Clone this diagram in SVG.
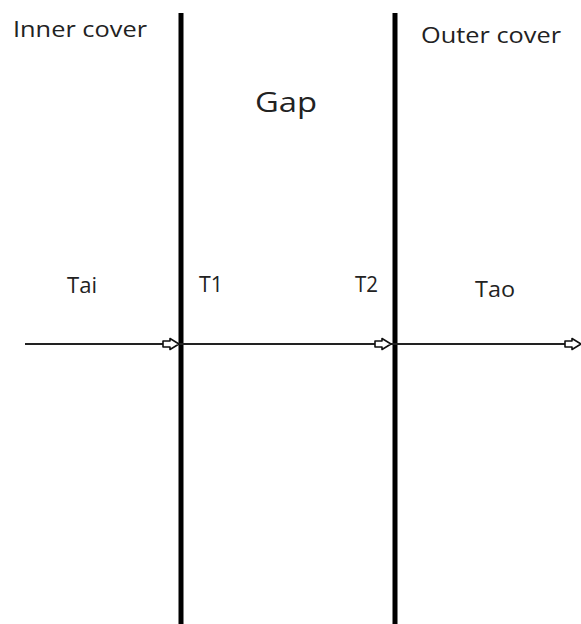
<svg xmlns="http://www.w3.org/2000/svg" width="581" height="624" viewBox="0 0 581 624">
<style>
.t{font-family:"Open Sans","Liberation Sans",sans-serif;fill:#222;}
.wall{stroke:#000;stroke-width:5;}
.flow{stroke:#222;stroke-width:1.8;fill:none;}
.ah{fill:#fff;stroke:#111;stroke-width:1.6;stroke-linejoin:round;}
</style>
<defs>
<path id="arr" class="ah" d="M-16,-3 L-9,-3 L-9,-5.5 L0,0 L-9,5.5 L-9,3 L-16,3 Z"/>
</defs>
<rect width="581" height="624" fill="#fff"/>
<g id="inner-wall"><line class="wall" x1="181" y1="13" x2="181" y2="624"/></g>
<g id="outer-wall"><line class="wall" x1="395" y1="13" x2="395" y2="624"/></g>
<g id="connectors">
<line class="flow" x1="25" y1="344" x2="581" y2="344"/>
<use href="#arr" x="179" y="344"/>
<use href="#arr" x="391" y="344"/>
<use href="#arr" x="581" y="344"/>
</g>
<g id="labels">
<text class="t" x="13" y="37" font-size="21" textLength="134" lengthAdjust="spacingAndGlyphs">Inner cover</text>
<text class="t" x="421" y="43" font-size="21" textLength="140" lengthAdjust="spacingAndGlyphs">Outer cover</text>
<text class="t" x="255" y="112" font-size="28" textLength="62" lengthAdjust="spacingAndGlyphs">Gap</text>
<text class="t" x="67" y="293" font-size="21" textLength="30" lengthAdjust="spacingAndGlyphs">Tai</text>
<text class="t" x="199" y="292" font-size="21" textLength="24" lengthAdjust="spacingAndGlyphs">T1</text>
<text class="t" x="355" y="292" font-size="21" textLength="23" lengthAdjust="spacingAndGlyphs">T2</text>
<text class="t" x="475" y="297" font-size="21" textLength="40" lengthAdjust="spacingAndGlyphs">Tao</text>
</g>
</svg>
